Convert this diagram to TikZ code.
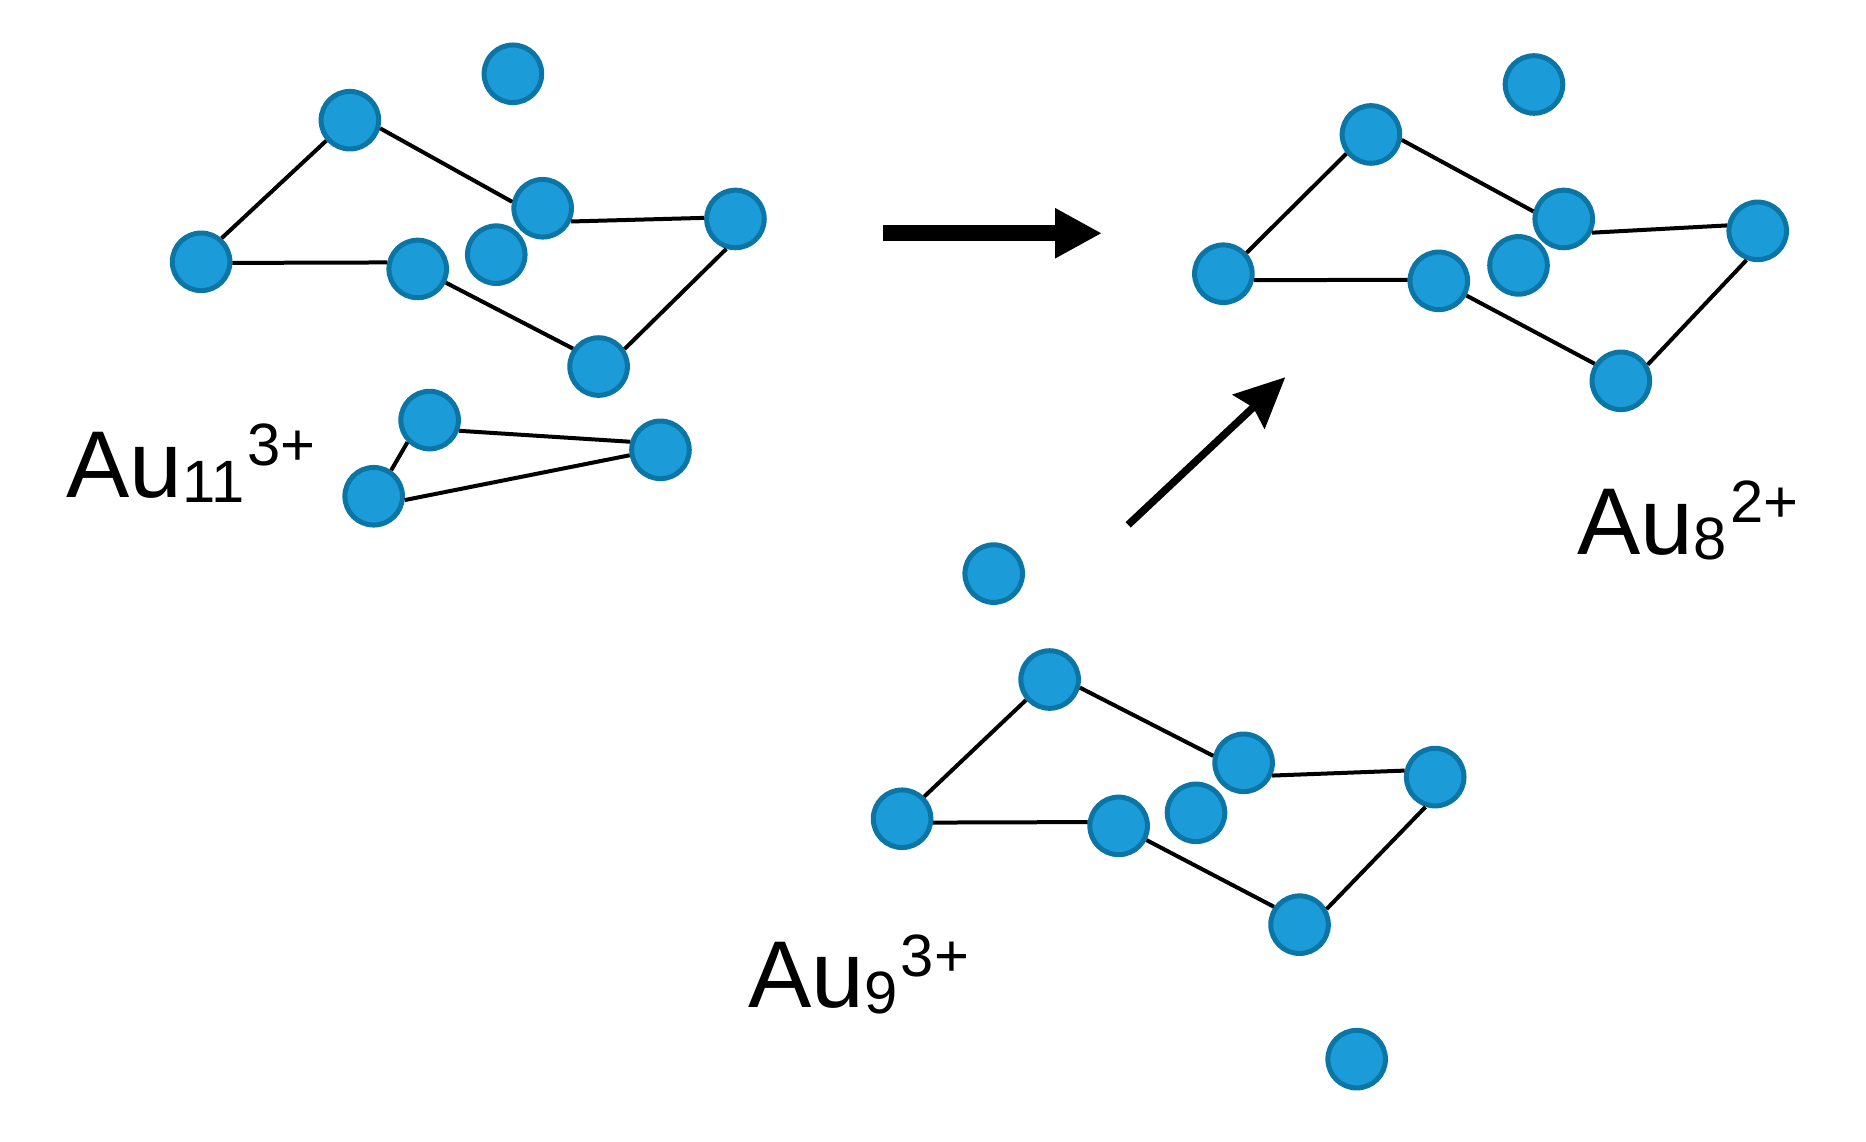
\documentclass[tikz,border=0pt]{standalone}
\usepackage{fontspec}
\setmainfont{Liberation Sans}
\usetikzlibrary{arrows.meta}
\definecolor{atomfill}{HTML}{1B9CD9}
\definecolor{atomline}{HTML}{0B76A5}
\newcommand{\ionlabel}[2]{\fontsize{27}{32}\selectfont Au\fontsize{17}{20}\selectfont\raisebox{-1.5pt}{#1}\hspace{1pt}\raisebox{9pt}{#2}}
\begin{document}
\begin{tikzpicture}[x=0.0119cm,y=-0.0119cm,
	atom/.style = {shape=circle, draw=atomline, fill=atomfill, line width=0.05cm,
		minimum size=0.576cm, inner sep=0pt},
	bond/.style = {line width=0.04cm},
	ionname/.style = {anchor=base west, inner sep=0pt}]
	\useasboundingbox (0,0) rectangle (1568,959);
	% Au11
	\node[atom] (a7) at (417,214) {};
	\node[atom] (a1) at (294,101) {};
	\node[atom] (a2) at (431,62) {};
	\node[atom] (a3) at (456,175) {};
	\node[atom] (a4) at (618,184) {};
	\node[atom] (a5) at (169,220) {};
	\node[atom] (a6) at (351,226) {};
	\node[atom] (a8) at (503,308) {};
	\node[atom] (a9) at (361,353) {};
	\node[atom] (a10) at (555,378) {};
	\node[atom] (a11) at (314,417) {};
	\draw[bond] (a5.49) -- (a1.221);
	\draw[bond] (a1.-15) -- (a3.168);
	\draw[bond] (a3.-25) -- (a4.178);
	\draw[bond] (a4.253) -- (a8.34);
	\draw[bond] (a8.145) -- (a6.-26);
	\draw[bond] (a6.168) -- (a5.-2);
	\draw[bond] (a9.225) -- (a11.56);
	\draw[bond] (a9.-20) -- (a10.165);
	\draw[bond] (a10.190) -- (a11.-7);
	\node[ionname] (au11) at (55,418) {\ionlabel{11}{3+}};
	% Au8
	\node[atom] (b7) at (1276,223) {};
	\node[atom] (b1) at (1152,113) {};
	\node[atom] (b2) at (1289,71) {};
	\node[atom] (b3) at (1314,184) {};
	\node[atom] (b4) at (1477,194) {};
	\node[atom] (b5) at (1028,230) {};
	\node[atom] (b6) at (1209,236) {};
	\node[atom] (b8) at (1362,320) {};
	\draw[bond] (b5.42) -- (b1.218);
	\draw[bond] (b1.-10) -- (b3.166);
	\draw[bond] (b3.-26) -- (b4.170);
	\draw[bond] (b4.249) -- (b8.31);
	\draw[bond] (b8.147) -- (b6.-28);
	\draw[bond] (b6.178) -- (b5.-12);
	\node[ionname] (au8) at (1325,466) {\ionlabel{8}{2+}};
	% Au9
	\node[atom] (c7) at (1005,683) {};
	\node[atom] (c1) at (835,482) {};
	\node[atom] (c2) at (882,571) {};
	\node[atom] (c3) at (1045,641) {};
	\node[atom] (c4) at (1206,653) {};
	\node[atom] (c5) at (758,688) {};
	\node[atom] (c6) at (940,694) {};
	\node[atom] (c8) at (1092,777) {};
	\node[atom] (c9) at (1140,890) {};
	\draw[bond] (c5.45) -- (c2.221);
	\draw[bond] (c2.-15) -- (c3.167);
	\draw[bond] (c3.-24) -- (c4.168);
	\draw[bond] (c4.252) -- (c8.30);
	\draw[bond] (c8.145) -- (c6.-27);
	\draw[bond] (c6.173) -- (c5.-7);
	\node[ionname] (au9) at (628,847) {\ionlabel{9}{3+}};
	% arrows
	\coordinate (h1) at (742,196);
	\coordinate (h2) at (926,196);
	\coordinate (d1) at (948,441);
	\coordinate (d2) at (1080,317);
	\draw[-{Triangle[length=0.47cm,width=0.47cm]},line width=0.16cm] (h1) -- (h2);
	\draw[-{Stealth[length=0.5cm,width=0.46cm,inset=0.06cm]},line width=0.075cm] (d1) -- (d2);
\end{tikzpicture}
\end{document}
